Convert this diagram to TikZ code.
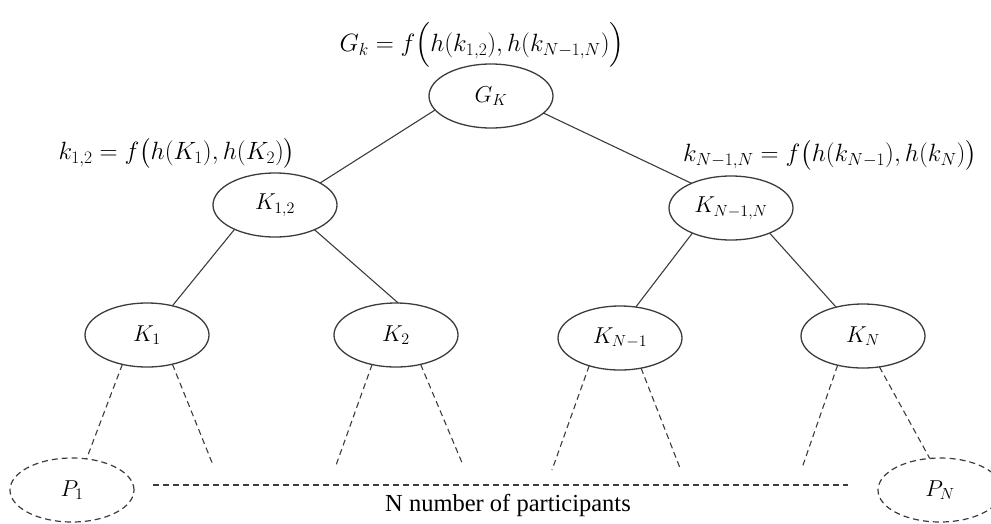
\RequirePackage{fix-cm}
\documentclass[tikz,border=0pt]{standalone}
\usepackage{amsmath}
\usepackage[no-math]{fontspec}
\setmainfont{Liberation Serif}
\usetikzlibrary{shapes.geometric}
\definecolor{linegray}{HTML}{3C3C3C}

\begin{document}
\begin{tikzpicture}[x=1pt,y=-1pt,
  every node/.style={inner sep=0pt, outer sep=0pt},
  keynode/.style={ellipse, draw=linegray, line width=1.3pt,
    minimum width=124pt, minimum height=64pt,
    font=\fontsize{23}{27}\selectfont},
  partnode/.style={keynode, dash pattern=on 6pt off 4pt, line width=1.2pt},
  link/.style={draw=linegray, line width=1.1pt},
  dlink/.style={link, dash pattern=on 6pt off 4pt},
  eqn/.style={font=\fontsize{25}{27}\selectfont}]

\useasboundingbox (0,0) rectangle (991,523);

% tree of keys
\node[keynode] (GK)   at (491,96)  {$G_K$};
\node[keynode] (K12)  at (275,205) {$K_{1,2}$};
\node[keynode] (KN1N) at (731,208) {$K_{N-1,N}$};
\node[keynode] (K1)   at (147,335) {$K_1$};
\node[keynode] (K2)   at (396,335) {$K_2$};
\node[keynode] (KN1)  at (620,338) {$K_{N-1}$};
\node[keynode] (KN)   at (863,336) {$K_N$};

% participants
\node[partnode] (P1) at (72,490)  {$P_1$};
\node[partnode] (PN) at (940,490) {$P_N$};

% formulas
\node[eqn] (eqG) at (482,45)
  {$G_k = f\Big(h(k_{1,2}), h(k_{N-1,N})\Big)$};
\node[eqn] (eqL) at (177,153)
  {$k_{1,2} = f\big(h(K_1), h(K_2)\big)$};
\node[eqn] (eqR) at (830,155)
  {$k_{N-1,N} = f\big(h(k_{N-1}), h(k_N)\big)$};

% solid links
\draw[link] (GK.194) -- (K12.26);
\draw[link] (GK.342) -- (KN1N.148);
\draw[link] (K12.211) -- (K1.49);
\draw[link] (K12.328) -- (K2.86);
\draw[link] (KN1N.213) -- (KN1.63);
\draw[link] (KN1N.327) -- (KN.133);

% open ends of the dashed branches
\coordinate (e1) at (213,465);
\coordinate (e2) at (335,468);
\coordinate (e3) at (463,465);
\coordinate (e4) at (552,470);
\coordinate (e5) at (680,468);
\coordinate (e6) at (802,468);
\coordinate (hl) at (153,485);
\coordinate (hr) at (848,485);

% dashed branches
\draw[dlink] (K1.230) -- (P1.65);
\draw[dlink] (K1.311) -- (e1);
\draw[dlink] (K2.231) -- (e2);
\draw[dlink] (K2.310) -- (e3);
\draw[dlink] (KN1.222) -- (e4);
\draw[dlink] (KN1.305) -- (e5);
\draw[dlink] (KN.229) -- (e6);
\draw[dlink] (KN.298) -- (PN.108);
\draw[dlink] (hl) -- (hr);

\node[font=\fontsize{24.5}{28}\selectfont] (lbl) at (508,505) {N number of participants};
\end{tikzpicture}
\end{document}
